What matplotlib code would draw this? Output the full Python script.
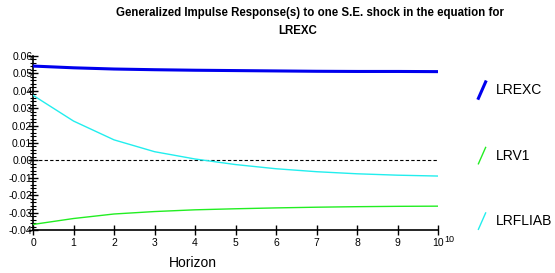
import matplotlib
matplotlib.use("Agg")
import matplotlib.pyplot as plt
from matplotlib.ticker import MultipleLocator, FormatStrFormatter
from matplotlib.lines import Line2D
import numpy as np

plt.rcParams["font.family"] = ["Liberation Sans", "DejaVu Sans"]

horizon = np.arange(0, 11)
lrexc = [0.0542, 0.0532, 0.0525, 0.0521, 0.0518, 0.0516, 0.0514, 0.0512, 0.0511, 0.0511, 0.0510]
lrv1 = [-0.0368, -0.0334, -0.0308, -0.0294, -0.0284, -0.0278, -0.0273, -0.0269, -0.0266, -0.0264, -0.0263]
lrfliab = [0.0374, 0.0226, 0.0118, 0.0050, 0.0008, -0.0024, -0.0048, -0.0065, -0.0077, -0.0085, -0.0090]

names = ["LREXC", "LRV1", "LRFLIAB"]
series = [lrexc, lrv1, lrfliab]
colors = ["#0000EE", "#22EE22", "#22EEEE"]
widths = [2.2, 1.0, 1.0]

fig = plt.figure(figsize=(5.55, 2.73), dpi=100)
ax = fig.add_axes([0.0595, 0.1575, 0.7297, 0.6375])

ax.axhline(0, color="black", linestyle=(0, (3, 2)), linewidth=0.8, zorder=1)
for vals, c, w in zip(series, colors, widths):
    ax.plot(horizon, vals, color=c, linewidth=w, zorder=3)

ax.set_xlim(0, 10)
ax.set_ylim(-0.04, 0.06)
ax.xaxis.set_major_locator(MultipleLocator(1))
ax.yaxis.set_major_locator(MultipleLocator(0.01))
ax.yaxis.set_minor_locator(MultipleLocator(0.002))
ax.yaxis.set_major_formatter(FormatStrFormatter("%.2f"))
for s in ["top", "right"]:
    ax.spines[s].set_visible(False)
ax.spines["left"].set_linewidth(1.2)
ax.spines["bottom"].set_linewidth(1.2)
ax.tick_params(axis="both", which="major", direction="inout", length=7, width=1,
               labelsize=7.5, pad=1)
ax.tick_params(axis="y", which="minor", direction="inout", length=5, width=0.8)
ax.tick_params(axis="y", which="major", pad=-3)
ax.tick_params(axis="x", which="major", pad=2.5)

fig.text(0.558, 0.953, "Generalized Impulse Response(s) to one S.E. shock in the equation for",
         ha="center", va="center", fontsize=8.3, fontweight="bold")
fig.text(0.537, 0.885, "LREXC", ha="center", va="center", fontsize=8.3, fontweight="bold")
fig.text(0.348, 0.035, "Horizon", ha="center", va="center", fontsize=10)
fig.text(0.801, 0.122, "10", ha="left", va="center", fontsize=6.5)

# legend on the right with slanted line keys
leg_y = [0.67, 0.43, 0.19]
for name, c, w, y in zip(names, colors, widths, leg_y):
    fig.add_artist(Line2D([0.862, 0.875], [y - 0.03, y + 0.03], color=c,
                          linewidth=w, transform=fig.transFigure))
    fig.text(0.893, y, name, ha="left", va="center", fontsize=10)

fig.savefig("out.png", dpi=100)
